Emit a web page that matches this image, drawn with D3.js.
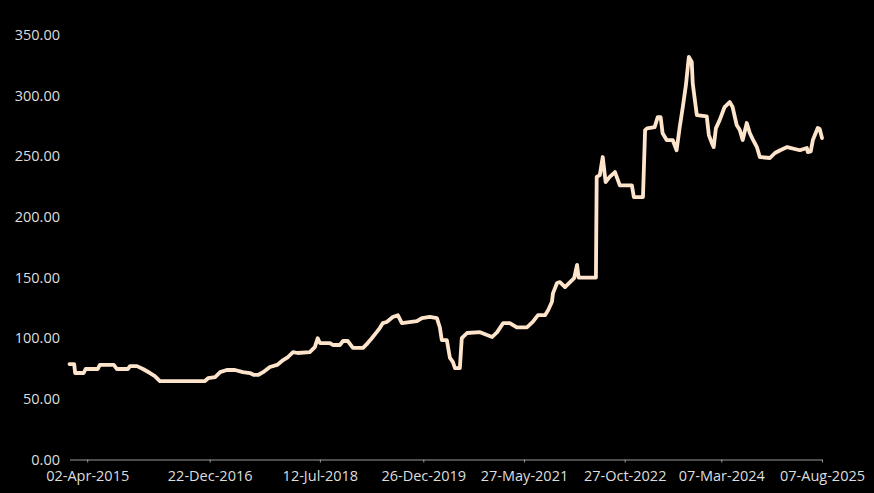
<!DOCTYPE html>
<html>
<head>
<meta charset="utf-8">
<script src="https://cdn.jsdelivr.net/npm/d3@7"></script>
<style>
  html, body { margin: 0; padding: 0; background: #000; }
  svg { display: block; }
  .tick text { font-family: "Open Sans", sans-serif; font-size: 14.5px; fill: #dedede; }
</style>
</head>
<body>
<div id="chart"></div>
<script>
// price series
const dates = [
  "2015-01-01","2015-01-25","2015-01-30","2015-03-15","2015-03-25","2015-05-26","2015-06-06","2015-08-17",
  "2015-09-02","2015-10-28","2015-11-08","2015-12-14","2016-01-14","2016-02-19","2016-03-15","2016-04-10",
  "2016-11-28","2016-12-14","2017-01-19","2017-02-14","2017-03-20","2017-05-01","2017-06-11","2017-07-17",
  "2017-08-07","2017-08-28","2017-09-23","2017-10-28","2017-12-04","2018-01-04","2018-01-29","2018-02-24",
  "2018-03-20","2018-05-21","2018-06-16","2018-07-01","2018-07-12","2018-09-02","2018-09-17","2018-10-23",
  "2018-11-08","2018-12-03","2018-12-29","2019-02-19","2019-03-15","2019-04-05","2019-04-30","2019-05-16",
  "2019-06-01","2019-06-21","2019-07-22","2019-08-17","2019-09-07","2019-11-23","2019-12-19","2020-01-29",
  "2020-03-05","2020-03-20","2020-03-30","2020-04-25","2020-05-11","2020-05-26","2020-06-06","2020-07-01",
  "2020-07-11","2020-08-07","2020-10-13","2020-11-18","2020-12-14","2021-01-09","2021-02-09","2021-03-15",
  "2021-04-20","2021-06-11","2021-07-11","2021-08-07","2021-09-12","2021-09-28","2021-10-18","2021-10-23",
  "2021-11-13","2021-11-28","2021-12-24","2022-01-19","2022-02-09","2022-02-24","2022-03-04","2022-06-01",
  "2022-06-05","2022-06-21","2022-07-06","2022-07-21","2022-08-11","2022-09-07","2022-10-02","2022-12-03",
  "2022-12-13","2023-01-29","2023-02-09","2023-02-19","2023-03-30","2023-04-15","2023-04-30","2023-05-10",
  "2023-05-31","2023-07-01","2023-07-21","2023-08-06","2023-08-22","2023-09-07","2023-09-22","2023-10-07",
  "2023-10-12","2023-11-02","2023-12-23","2024-01-03","2024-01-18","2024-01-28","2024-02-08","2024-02-28",
  "2024-03-24","2024-04-19","2024-05-04","2024-05-25","2024-06-10","2024-06-25","2024-07-16","2024-08-01",
  "2024-08-16","2024-09-06","2024-09-21","2024-11-12","2024-12-08","2025-01-04","2025-02-09","2025-04-15",
  "2025-05-21","2025-05-26","2025-06-10","2025-06-21","2025-07-16","2025-07-26","2025-08-07"
];
const prices = [
  78.7, 78.7, 71.3, 71.3, 74.6, 74.6, 78.0, 78.0,
  74.6, 74.6, 77.0, 77.0, 74.6, 71.3, 68.8, 64.7,
  64.7, 67.0, 68.0, 72.0, 73.8, 73.8, 72.0, 71.3,
  69.7, 69.7, 72.0, 76.3, 78.0, 82.0, 84.5, 88.6,
  87.8, 88.6, 92.7, 100.0, 96.0, 96.0, 94.4, 94.4,
  97.7, 97.7, 92.0, 92.0, 96.0, 100.0, 105.0, 108.4,
  112.5, 113.4, 117.5, 119.0, 112.5, 114.0, 116.6, 117.5,
  116.6, 109.0, 98.5, 98.5, 83.7, 80.4, 75.4, 75.4,
  100.0, 104.3, 105.0, 102.6, 101.0, 105.0, 112.5, 112.5,
  109.0, 109.0, 113.4, 119.0, 119.0, 123.0, 130.0, 137.0,
  145.5, 146.3, 142.2, 146.3, 149.6, 160.4, 150.0, 150.0,
  233.0, 234.5, 249.4, 228.8, 233.0, 237.0, 226.0, 226.0,
  216.4, 216.4, 271.6, 273.0, 274.0, 282.3, 282.3, 269.0,
  263.4, 263.4, 255.0, 274.0, 290.6, 308.7, 332.0, 327.7,
  310.0, 284.0, 283.0, 267.5, 261.0, 257.6, 273.0, 280.0,
  290.6, 294.7, 290.6, 275.8, 271.6, 263.4, 277.4, 269.0,
  264.0, 257.6, 249.4, 248.6, 252.7, 255.0, 257.6, 255.0,
  256.8, 253.5, 254.0, 263.4, 273.3, 272.5, 265.0
];
const xTickLabels = ["02-Apr-2015","22-Dec-2016","12-Jul-2018","26-Dec-2019","27-May-2021","27-Oct-2022","07-Mar-2024","07-Aug-2025"];
const yTicks = [0, 50, 100, 150, 200, 250, 300, 350];

const width = 874, height = 493;
const parseDate = d3.timeParse("%Y-%m-%d");
const parseTick = d3.timeParse("%d-%b-%Y");
const formatTick = d3.timeFormat("%d-%b-%Y");

const data = dates.map((d, i) => ({ date: parseDate(d), value: prices[i] }));

const svg = d3.select("#chart")
    .append("svg")
    .attr("width", width)
    .attr("height", height)

const xScale = d3.scaleTime()
    .domain([parseDate("2015-01-01"), parseTick("07-Aug-2025")])
    .range([69.5, 822]);

const yScale = d3.scaleLinear()
    .domain([0, 350])
    .range([459.5, 35]);

// x axis
const xAxis = svg.append("g")
    .attr("transform", "translate(0,459.5)")
    .call(d3.axisBottom(xScale)
        .tickValues(xTickLabels.map(parseTick))
        .tickFormat(formatTick)
        .tickSizeInner(3)
        .tickSizeOuter(0)
        .tickPadding(8))
xAxis.select(".domain").attr("stroke", "#9a9a9a")
xAxis.selectAll(".tick line").attr("stroke", "#9a9a9a")

// y axis, labels only
const yAxis = svg.append("g")
    .attr("transform", "translate(60,0)")
    .call(d3.axisLeft(yScale)
        .tickValues(yTicks)
        .tickFormat(d3.format(".2f"))
        .tickSize(0)
        .tickPadding(0))
yAxis.select(".domain").remove()
yAxis.selectAll(".tick text").attr("dy", "0.32em")

// the price line
const line = d3.line()
    .x(d => xScale(d.date))
    .y(d => yScale(d.value));

svg.append("path")
    .datum(data)
    .attr("d", line)
    .attr("fill", "none")
    .attr("stroke", "#ffe4cc")
    .attr("stroke-width", 3.8)
    .attr("stroke-linejoin", "round")
    .attr("stroke-linecap", "round")
</script>
</body>
</html>
